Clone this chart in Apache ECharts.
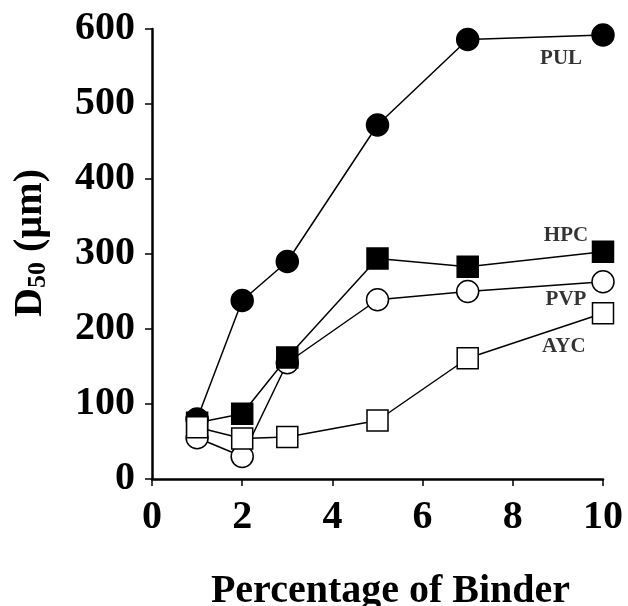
<!DOCTYPE html>
<html>
<head>
  <meta charset="UTF-8">
  <title>D50 vs Percentage of Binder</title>
  <script src="https://cdn.jsdelivr.net/npm/echarts@6/dist/echarts.min.js"></script>
  <style>
    body { margin: 0; padding: 0; background: #fff; }
    #chart { width: 628px; height: 606px; }
  </style>
</head>
<body>
  <div id="chart"></div>
  <script>
    // binder percentage (x)
    var binderPct = [1, 2, 3, 5, 7, 10];

    // D50 values (um)
    var pulValues = [80, 238, 290, 472, 586, 592];
    var hpcValues = [75, 87, 162, 294, 283, 303];
    var pvpValues = [55, 30, 155, 239, 250, 263];
    var aycValues = [69, 54, 56, 78, 161, 221];

    // series name labels, placed in data coordinates
    var labelNames = ['PUL', 'HPC', 'PVP', 'AYC'];
    var labelX = [9.07, 9.18, 9.18, 9.13];
    var labelY = [560, 325, 239, 176];

    var font = "'Liberation Serif', 'Times New Roman', serif";

    function pairs(vals) {
      return binderPct.map(function (x, i) { return [x, vals[i]]; });
    }

    function lineSeries(name, vals, symbol, filled) {
      return {
        name: name,
        type: 'line',
        data: pairs(vals),
        symbol: symbol,
        symbolSize: symbol === 'circle' ? 22 : 21,
        showAllSymbol: true,
        lineStyle: { color: '#000', width: 1.5 },
        itemStyle: {
          color: filled ? '#000' : '#fff',
          borderColor: '#000',
          borderWidth: 1.5
        },
        emphasis: { disabled: true },
        animation: false
      };
    }

    var chart = echarts.init(document.getElementById('chart'));

    chart.setOption({
      animation: false,
      grid: { left: 152, right: 25, top: 29, bottom: 127, containLabel: false, outerBoundsMode: 'none' },
      xAxis: {
        type: 'value',
        min: 0,
        max: 10,
        interval: 2,
        name: 'Percentage of Binder',
        nameLocation: 'middle',
        nameGap: 93,
        nameTextStyle: { fontFamily: font, fontWeight: 'bold', fontSize: 40, color: '#000', padding: [0, 0, 0, 26] },
        axisLine: { show: true, lineStyle: { color: '#000', width: 2.5 } },
        axisTick: { show: true, length: 7, lineStyle: { color: '#000', width: 1.5 } },
        axisLabel: { fontFamily: font, fontWeight: 'bold', fontSize: 40, color: '#000', margin: 19 },
        splitLine: { show: false }
      },
      yAxis: {
        type: 'value',
        min: 0,
        max: 600,
        interval: 100,
        name: '{m|D}{s|50}{m| (µm)}',
        nameLocation: 'middle',
        nameRotate: 90,
        nameGap: 101,
        nameTextStyle: {
          fontFamily: font,
          fontWeight: 'bold',
          color: '#000',
          padding: [0, 0, 0, 22],
          rich: {
            m: { fontFamily: font, fontWeight: 'bold', fontSize: 40, lineHeight: 40, verticalAlign: 'top', color: '#000' },
            s: { fontFamily: font, fontWeight: 'bold', fontSize: 26, lineHeight: 26, verticalAlign: 'bottom', color: '#000' }
          }
        },
        axisLine: { show: true, lineStyle: { color: '#000', width: 2.5 } },
        axisTick: { show: true, length: 7, lineStyle: { color: '#000', width: 1.5 } },
        axisLabel: { fontFamily: font, fontWeight: 'bold', fontSize: 40, color: '#000', margin: 17 },
        splitLine: { show: false }
      },
      series: [
        lineSeries('PUL', pulValues, 'circle', true),
        lineSeries('PVP', pvpValues, 'circle', false),
        lineSeries('HPC', hpcValues, 'rect', true),
        lineSeries('AYC', aycValues, 'rect', false),
        {
          type: 'scatter',
          symbolSize: 0,
          silent: true,
          data: labelNames.map(function (n, i) { return { name: n, value: [labelX[i], labelY[i]] }; }),
          label: {
            show: true,
            position: 'inside',
            formatter: '{b}',
            fontFamily: font,
            fontWeight: 'bold',
            fontSize: 21,
            color: '#000'
          },
          animation: false
        }
      ]
    });
  </script>
</body>
</html>
